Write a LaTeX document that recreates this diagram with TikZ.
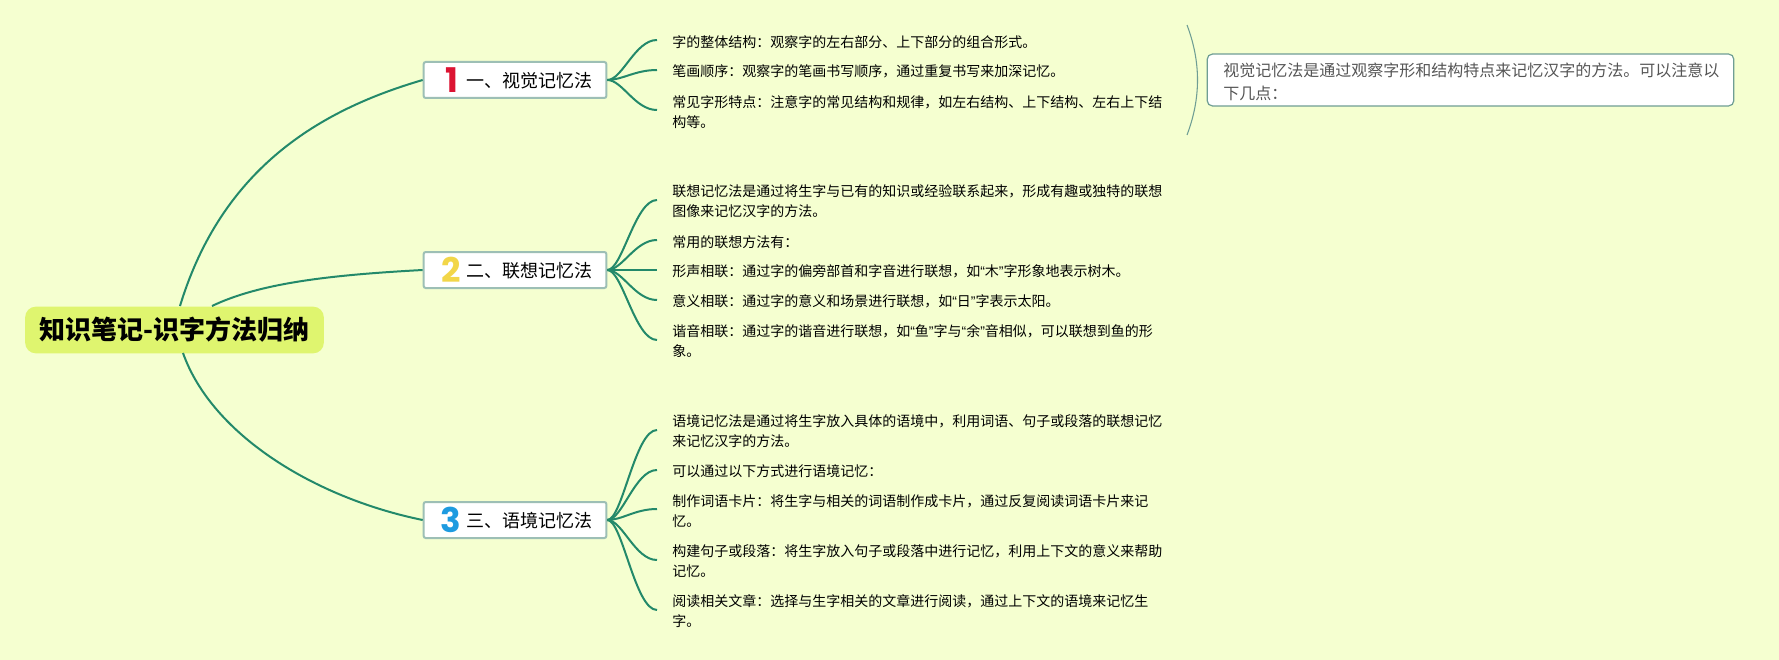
\documentclass[tikz,border=0pt]{standalone}
\usepackage{fontspec}
\setmainfont{Noto Sans CJK SC}
\newfontfamily\numfont{Poppins}
\newfontfamily\quotefont{Liberation Sans}
\newcommand{\cnq}[1]{{\quotefont“}#1{\quotefont”}}
\usetikzlibrary{shapes}
\definecolor{paper}{HTML}{F5FFD0}
\definecolor{rootfill}{HTML}{DFF56F}
\definecolor{branchgreen}{HTML}{23896A}
\definecolor{boxline}{HTML}{9DBFB5}
\definecolor{noteline}{HTML}{6F9E94}
\definecolor{notetext}{HTML}{555555}
\definecolor{numred}{HTML}{DC1432}
\definecolor{numyellow}{HTML}{F2D648}
\definecolor{numblue}{HTML}{1E9BE0}
\tikzset{
  rootbox/.style={fill=rootfill,rounded corners=8pt,minimum width=224pt,minimum height=35pt,inner sep=0pt,font=\fontsize{19.5}{24}\selectfont\bfseries},
  topicbox/.style={draw=boxline,line width=1.5pt,fill=white,rounded corners=1.5pt,minimum width=137pt,minimum height=27pt,inner sep=0pt},
  topictext/.style={inner sep=0pt,font=\fontsize{13.5}{16}\selectfont},
  numtext/.style={inner sep=0pt,font=\fontsize{25.5}{26}\selectfont\numfont\bfseries},
  leaf/.style={anchor=west,inner sep=0pt,align=left,font=\fontsize{10.5}{15}\selectfont},
  notebox/.style={draw=noteline,line width=0.9pt,fill=white,rounded corners=4pt,minimum width=395pt,minimum height=39pt,inner sep=0pt},
  notetxt/.style={anchor=west,inner sep=0pt,align=left,text=notetext,font=\fontsize{12}{17.25}\selectfont},
  mainline/.style={draw=branchgreen,line width=1.5pt},
  twig/.style={draw=branchgreen,line width=1.5pt},
  notearc/.style={draw=noteline,line width=0.8pt}
}
\begin{document}
\begin{tikzpicture}[x=0.75pt,y=-0.75pt]
  \fill[paper] (0,0) rectangle (1779,660);
  \useasboundingbox (0,0) rectangle (1779,660);
  % centre and three topics
  \node[rootbox] (root) at (174.5,330) {知识笔记-识字方法归纳};
  \node[topicbox] (vis) at (515,80) {};
  \node[topicbox] (assoc) at (515,270) {};
  \node[topicbox] (ctx) at (515,520) {};
  \node[numtext,text=numred] (num1) at (452,80) {1};
  \node[numtext,text=numyellow] (num2) at (451,270) {2};
  \node[numtext,text=numblue] (num3) at (451,520) {3};
  \node[topictext] (vist) at (529,81) {一、视觉记忆法};
  \node[topictext] (assoct) at (529,271) {二、联想记忆法};
  \node[topictext] (ctxt) at (529,521) {三、语境记忆法};
  \coordinate (r1) at (180,306);
  \coordinate (r2) at (212,306);
  \coordinate (r3) at (183,353);
  \draw[mainline] (r1) .. controls (222,168) and (320,110) .. (vis.west);
  \draw[mainline] (r2) .. controls (260,283) and (330,275) .. (assoc.west);
  \draw[mainline] (r3) .. controls (212,435) and (315,498) .. (ctx.west);
  % first group
  \coordinate (a1) at (657,40);
  \coordinate (a2) at (657,70);
  \coordinate (a3) at (657,110);
  \draw[twig] (vis.east) .. controls +(15,0) and +(-22,0) .. (a1);
  \draw[twig] (vis.east) .. controls +(15,0) and +(-22,0) .. (a2);
  \draw[twig] (vis.east) .. controls +(15,0) and +(-22,0) .. (a3);
  \node[leaf] (la1) at (672,42) {字的整体结构：观察字的左右部分、上下部分的组合形式。};
  \node[leaf] (la2) at (672,71) {笔画顺序：观察字的笔画书写顺序，通过重复书写来加深记忆。};
  \node[leaf] (la3) at (672,112) {常见字形特点：注意字的常见结构和规律，如左右结构、上下结构、左右上下结\\构等。};
  % second group
  \coordinate (b1) at (657,200);
  \coordinate (b2) at (657,240);
  \coordinate (b3) at (657,270);
  \coordinate (b4) at (657,300);
  \coordinate (b5) at (657,340);
  \draw[twig] (assoc.east) .. controls +(15,0) and +(-22,0) .. (b1);
  \draw[twig] (assoc.east) .. controls +(15,0) and +(-22,0) .. (b2);
  \draw[twig] (assoc.east) -- (b3);
  \draw[twig] (assoc.east) .. controls +(15,0) and +(-22,0) .. (b4);
  \draw[twig] (assoc.east) .. controls +(15,0) and +(-22,0) .. (b5);
  \node[leaf] (lb1) at (672,201) {联想记忆法是通过将生字与已有的知识或经验联系起来，形成有趣或独特的联想\\图像来记忆汉字的方法。};
  \node[leaf] (lb2) at (672,242) {常用的联想方法有：};
  \node[leaf] (lb3) at (672,271) {形声相联：通过字的偏旁部首和字音进行联想，如\cnq{木}字形象地表示树木。};
  \node[leaf] (lb4) at (672,301) {意义相联：通过字的意义和场景进行联想，如\cnq{日}字表示太阳。};
  \node[leaf] (lb5) at (672,341) {谐音相联：通过字的谐音进行联想，如\cnq{鱼}字与\cnq{余}音相似，可以联想到鱼的形\\象。};
  % third group
  \coordinate (c1) at (657,430);
  \coordinate (c2) at (657,470);
  \coordinate (c3) at (657,509);
  \coordinate (c4) at (657,560);
  \coordinate (c5) at (657,610);
  \draw[twig] (ctx.east) .. controls +(15,0) and +(-22,0) .. (c1);
  \draw[twig] (ctx.east) .. controls +(15,0) and +(-22,0) .. (c2);
  \draw[twig] (ctx.east) .. controls +(15,0) and +(-22,0) .. (c3);
  \draw[twig] (ctx.east) .. controls +(15,0) and +(-22,0) .. (c4);
  \draw[twig] (ctx.east) .. controls +(15,0) and +(-22,0) .. (c5);
  \node[leaf] (lc1) at (672,431) {语境记忆法是通过将生字放入具体的语境中，利用词语、句子或段落的联想记忆\\来记忆汉字的方法。};
  \node[leaf] (lc2) at (672,471) {可以通过以下方式进行语境记忆：};
  \node[leaf] (lc3) at (672,511) {制作词语卡片：将生字与相关的词语制作成卡片，通过反复阅读词语卡片来记\\忆。};
  \node[leaf] (lc4) at (672,561) {构建句子或段落：将生字放入句子或段落中进行记忆，利用上下文的意义来帮助\\记忆。};
  \node[leaf] (lc5) at (672,611) {阅读相关文章：选择与生字相关的文章进行阅读，通过上下文的语境来记忆生\\字。};
  % note on the first group
  \coordinate (arctop) at (1187,25);
  \coordinate (arcend) at (1187,135);
  \draw[notearc] (arctop) .. controls (1201,62) and (1201,98) .. (arcend);
  \node[notebox] (note) at (1470.5,80) {};
  \node[notetxt] (notet) at (1223,81.5) {视觉记忆法是通过观察字形和结构特点来记忆汉字的方法。可以注意以\\下几点：};
\end{tikzpicture}
\end{document}
